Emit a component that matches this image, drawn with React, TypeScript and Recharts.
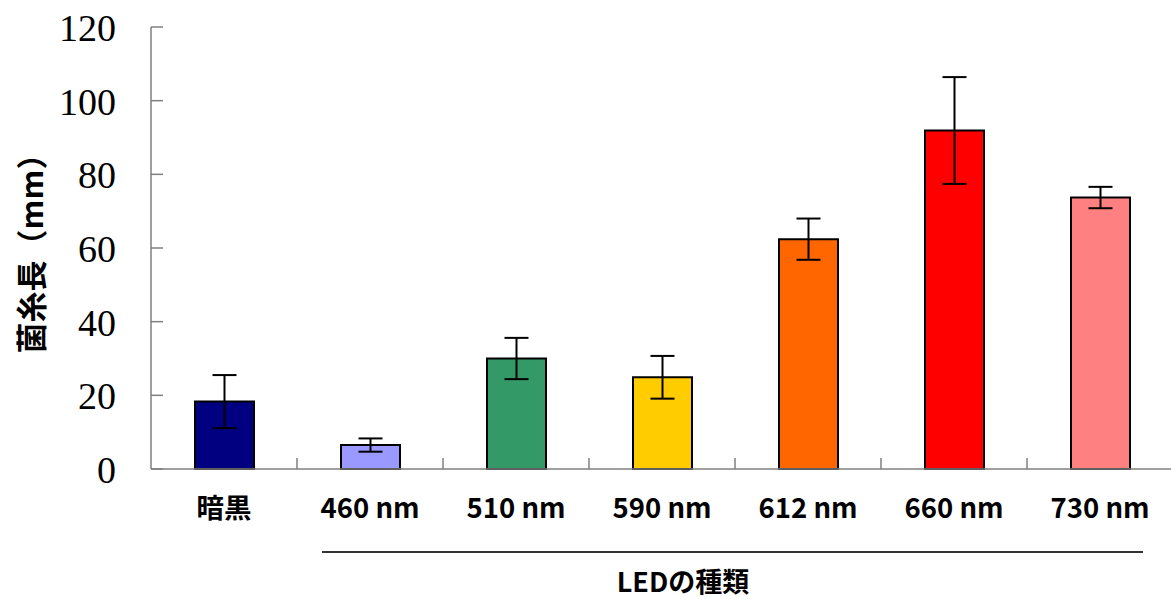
import { BarChart, Bar, XAxis, YAxis, ErrorBar, Cell } from "recharts";

const categories = ["暗黒", "460 nm", "510 nm", "590 nm", "612 nm", "660 nm", "730 nm"];
const means = [18.3, 6.5, 30.0, 24.9, 62.4, 91.9, 73.7];
const errors = [7.2, 1.8, 5.6, 5.8, 5.6, 14.5, 2.9];
const barColors = ["#000080", "#9999FF", "#339966", "#FFCC00", "#FF6600", "#FF0000", "#FF8080"];
const yTicks = [0, 20, 40, 60, 80, 100, 120];

const AXIS_W = 151;
const BAND = 146;
const CHART_W = AXIS_W + BAND * categories.length;
const CHART_H = 599;
const TOP = 27;
const XAXIS_H = 130;

const chartData = categories.map((name, i) => ({ name, value: means[i], err: errors[i] }));

const axisColor = "#7f7f7f";
const sansFont = "'Noto Sans CJK JP', 'Noto Sans', sans-serif";

function YTick(props: any) {
  const { x, y, payload } = props;
  return (
    <g>
      <line x1={x} x2={x + 12} y1={y} y2={y} stroke={axisColor} strokeWidth={1.5} />
      <text
        x={x - 35}
        y={y + 1}
        textAnchor="end"
        dominantBaseline="central"
        fontFamily="'Liberation Serif', serif"
        fontSize={38}
        fill="#000"
      >
        {payload.value}
      </text>
    </g>
  );
}

function XTick(props: any) {
  const { x, y, payload } = props;
  return (
    <g>
      <line x1={x + BAND / 2} x2={x + BAND / 2} y1={y} y2={y - 11} stroke={axisColor} strokeWidth={1.5} />
      <text
        x={x}
        y={y + 37}
        textAnchor="middle"
        dominantBaseline="central"
        fontFamily={sansFont}
        fontWeight="bold"
        fontSize={27.5}
        fill="#000"
      >
        {payload.value}
      </text>
    </g>
  );
}

export default function App() {
  return (
    <div style={{ position: "absolute", left: 0, top: 0, width: 1171, height: CHART_H, overflow: "hidden", background: "#fff" }}>
      <BarChart
        width={CHART_W}
        height={CHART_H}
        data={chartData}
        margin={{ top: TOP, right: 0, left: 0, bottom: 0 }}
      >
        <XAxis
          dataKey="name"
          height={XAXIS_H}
          interval={0}
          tickSize={0}
          tickMargin={0}
          tickLine={false}
          axisLine={{ stroke: axisColor, strokeWidth: 1.5 }}
          tick={<XTick />}
          label={(p: any) => {
            const vb = p.viewBox;
            const y0 = vb.y;
            return (
              <g>
                <line x1={322} x2={1143} y1={y0 + 83} y2={y0 + 83} stroke="#333" strokeWidth={2} />
                <text
                  x={683}
                  y={y0 + 111}
                  textAnchor="middle"
                  dominantBaseline="central"
                  fontFamily={sansFont}
                  fontWeight="bold"
                  fontSize={27}
                  fill="#000"
                >
                  LEDの種類
                </text>
              </g>
            );
          }}
        />
        <YAxis
          width={AXIS_W}
          domain={[0, 120]}
          ticks={yTicks}
          interval={0}
          tickSize={0}
          tickMargin={0}
          tickLine={false}
          axisLine={{ stroke: axisColor, strokeWidth: 1.5 }}
          tick={<YTick />}
          label={(p: any) => {
            const vb = p.viewBox;
            const cy = vb.y + vb.height / 2 - 2;
            return (
              <text
                x={29}
                y={cy}
                transform={`rotate(-90, 29, ${cy})`}
                textAnchor="middle"
                dominantBaseline="central"
                fontFamily={sansFont}
                fontWeight="bold"
                fontSize={31}
                fill="#000"
              >
                菌糸長（mm）
              </text>
            );
          }}
        />
        <Bar dataKey="value" barSize={59} stroke="#000" strokeWidth={2} isAnimationActive={false}>
          {chartData.map((d, i) => (
            <Cell key={d.name} fill={barColors[i]} />
          ))}
          <ErrorBar dataKey="err" width={12} stroke="#000" strokeWidth={2} isAnimationActive={false} />
        </Bar>
      </BarChart>
    </div>
  );
}
